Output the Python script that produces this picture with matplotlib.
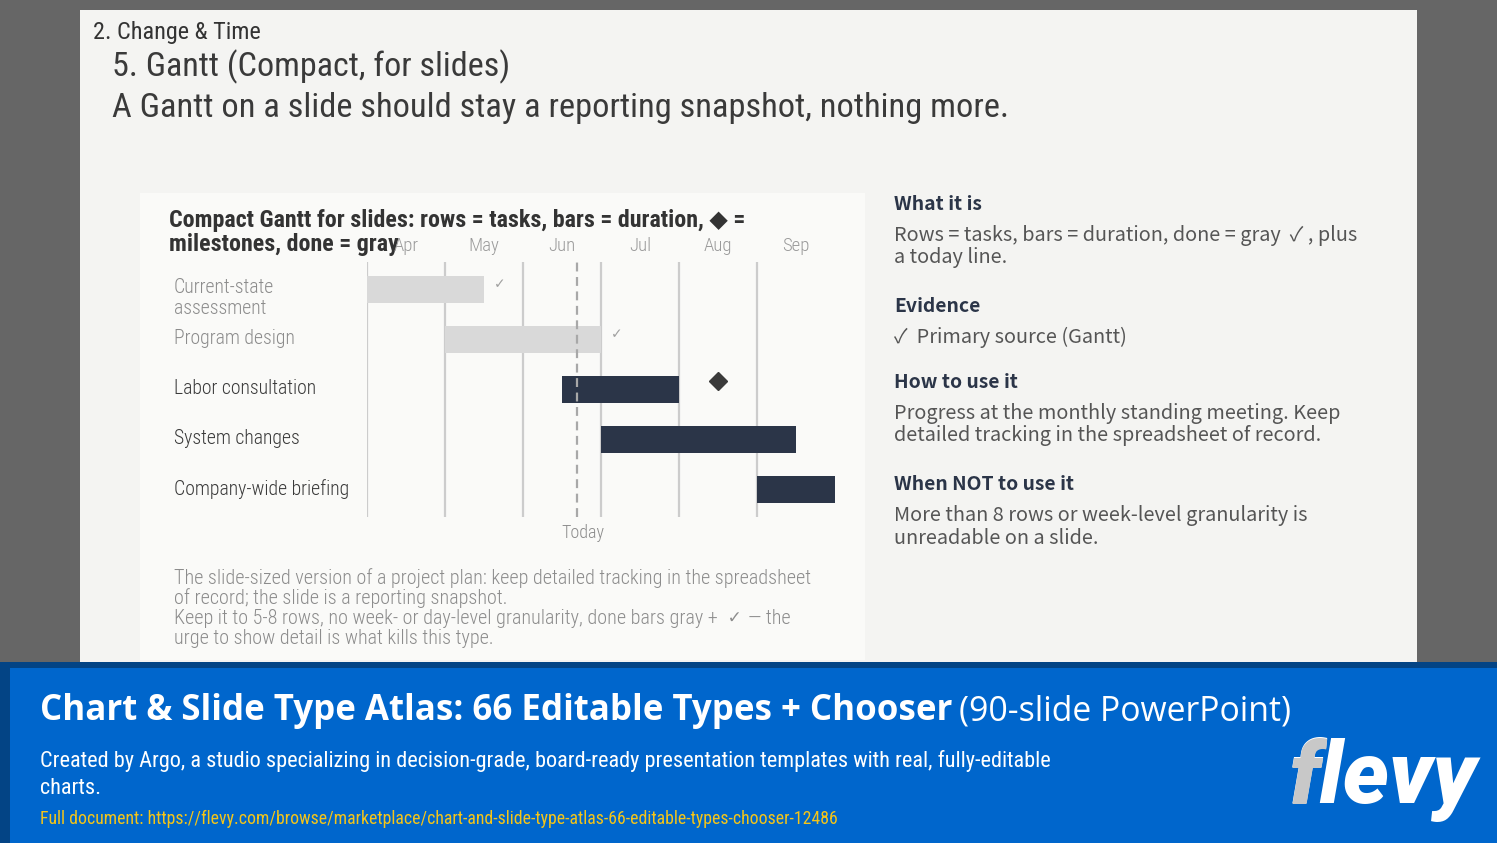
import matplotlib
matplotlib.use("Agg")
import matplotlib.pyplot as plt
from matplotlib import font_manager
from matplotlib.patches import Rectangle

# ---- data ----
months = ["Apr", "May", "Jun", "Jul", "Aug", "Sep"]
tasks = ["Current-state\nassessment", "Program design", "Labor consultation",
         "System changes", "Company-wide briefing"]
starts = [0.0, 1.0, 2.5, 3.0, 5.0]
ends = [1.5, 3.0, 4.0, 5.5, 6.0]
done = [True, True, False, False, False]
milestone_row = 2
milestone_at = 4.5
today = 2.69

notes = ["The slide-sized version of a project plan: keep detailed tracking in the spreadsheet",
         "of record; the slide is a reporting snapshot.",
         "Keep it to 5-8 rows, no week- or day-level granularity, done bars gray + \u2713 \u2014 the",
         "urge to show detail is what kills this type."]

side = [
    ("What it is", ["Rows = tasks, bars = duration, done = gray  \u2713 , plus", "a today line."]),
    ("Evidence", ["\u2713  Primary source (Gantt)"]),
    ("How to use it", ["Progress at the monthly standing meeting. Keep",
                       "detailed tracking in the spreadsheet of record."]),
    ("When NOT to use it", ["More than 8 rows or week-level granularity is",
                            "unreadable on a slide."]),
]

# ---- fonts ----
names = {f.name for f in font_manager.fontManager.ttflist}


def pick(*cands):
    for c in cands:
        if c in names:
            return c
    return "DejaVu Sans"


NARROW = [pick("Roboto Condensed", "Liberation Sans Narrow", "Roboto"), "DejaVu Sans"]
JP = [pick("Noto Sans CJK JP", "Noto Sans"), "DejaVu Sans"]
OPEN = [pick("Open Sans", "Noto Sans"), "DejaVu Sans"]
LOGO = [pick("Roboto", "Liberation Sans"), "DejaVu Sans"]

W, H = 1497, 843
fig = plt.figure(figsize=(W / 100, H / 100), dpi=100, facecolor="#666666")
renderer = fig.canvas.get_renderer()

bg = fig.add_axes([0, 0, 1, 1])
bg.set_xlim(0, W)
bg.set_ylim(H, 0)
bg.axis("off")

# slide, chart panel, banner
bg.add_patch(Rectangle((80, 10), 1337, 652, color="#f4f4f2", lw=0))
bg.add_patch(Rectangle((140, 193), 725, 467, color="#fafaf8", lw=0))
bg.add_patch(Rectangle((0, 662), W, H - 662, color="#034485", lw=0))
bg.add_patch(Rectangle((10, 668), W - 10, H - 668, color="#0066cc", lw=0))


def fit(x, y, s, width, color, family, weight="normal", **kw):
    t = bg.text(x, y, s, fontsize=20, color=color, family=family,
                fontweight=weight, va="center", ha="left", **kw)
    w = t.get_window_extent(renderer).width
    t.set_fontsize(20 * width / w)
    return t


def para(x, ys, lines, width, color, family, weight="normal"):
    t = fit(x, ys[0], lines[0], width, color, family, weight)
    size = t.get_fontsize()
    for y, s in zip(ys[1:], lines[1:]):
        bg.text(x, y, s, fontsize=size, color=color, family=family,
                fontweight=weight, va="center", ha="left")
    return size


# header
fit(93, 33, "2. Change & Time", 167, "#333333", NARROW)
fit(112, 67, "5. Gantt (Compact, for slides)", 397, "#3a3a3a", NARROW)
fit(112, 108, "A Gantt on a slide should stay a reporting snapshot, nothing more.", 893,
    "#3a3a3a", NARROW)

# chart title
para(169, [220, 244], ["Compact Gantt for slides: rows = tasks, bars = duration, \u25c6 =",
                       "milestones, done = gray"], 577, "#333333", NARROW, "bold")

# ---- gantt ----
x0, x1, y0, y1 = 367, 835, 262, 517
ax = fig.add_axes([x0 / W, 1 - y1 / H, (x1 - x0) / W, (y1 - y0) / H])
ax.set_facecolor("none")
rows = list(range(len(tasks)))
ax.set_xlim(0, len(months))
ax.set_ylim(len(tasks) - 0.44, -0.54)
for s in ax.spines.values():
    s.set_visible(False)

for m in range(len(months)):
    ax.axvline(m, color="#cccccc", lw=1.6, zorder=1)

bar_cols = ["#d9d9d9" if d else "#2b3548" for d in done]
ax.barh(rows, [e - s for s, e in zip(starts, ends)], left=starts, height=0.54,
        color=bar_cols, zorder=2)
ax.axvline(today, color="#a8a8a8", lw=1.6, ls=(0, (4, 2.5)), zorder=3)

for r, e, d in zip(rows, ends, done):
    if d:
        ax.text(e + 0.2, r - 0.1, "\u2713", fontsize=10, color="#a0a0a0",
                ha="center", va="center", family=["DejaVu Sans"])
ax.plot([milestone_at], [milestone_row - 0.16], marker="D", ms=9, color="#3a3a3a",
        zorder=4, ls="none")

ax.set_xticks([m + 0.5 for m in range(len(months))])
ax.set_xticklabels(months, family=NARROW, fontsize=13.5, color="#9a9a9a",
                   fontweight="light")
ax.xaxis.tick_top()
ax.tick_params(axis="x", length=0, pad=5)
ax.set_yticks([])

ytr = ax.get_yaxis_transform()
lab_x = (174 - x0) / (x1 - x0)
for r, name, d in zip(rows, tasks, done):
    yy = r + 0.18 if "\n" in name else r
    ax.text(lab_x, yy, name, transform=ytr, ha="left", va="center",
            fontsize=14.2, color="#8c8c8c" if d else "#3a3a3a", family=NARROW,
            fontweight="light", linespacing=1.15)

ax.text(today + 0.08, -0.063, "Today", transform=ax.get_xaxis_transform(),
        ha="center", va="center", fontsize=13, color="#8c8c8c", family=NARROW,
        fontweight="light")

# notes under chart (light face; the check mark comes from DejaVu Sans)
note_size = fit(174, 578, notes[0], 636, "#8c8c8c", NARROW, "light").get_fontsize()
for y, line in zip([598, 618, 638], notes[1:]):
    parts = line.split("\u2713")
    xx = 174
    for i, part in enumerate(parts):
        if i > 0:
            ck = bg.text(xx, y, " \u2713 ", fontsize=note_size * 0.85, color="#8c8c8c",
                         family=["DejaVu Sans"], va="center", ha="left")
            xx = ck.get_window_extent(renderer).x1
        seg = bg.text(xx, y, part.strip() if i > 0 else part, fontsize=note_size,
                      color="#8c8c8c", family=NARROW, fontweight="light",
                      va="center", ha="left")
        xx = seg.get_window_extent(renderer).x1

# ---- right panel ----
ys = [(205, [235, 258]), (307, [337]), (383, [413, 436]), (485, [515, 538])]
hsize = None
bsize = None
for (head, body), (hy, bys) in zip(side, ys):
    if hsize is None:
        hsize = fit(894, hy, head, 88, "#2b3548", JP, "bold").get_fontsize()
        bsize = para(894, bys, body, 463, "#555555", JP)
    else:
        bg.text(894, hy, head, fontsize=hsize, color="#2b3548", family=JP,
                fontweight="bold", va="center")
        for y, s in zip(bys, body):
            bg.text(894, y, s, fontsize=bsize, color="#555555", family=JP, va="center")

# ---- banner ----
t = fit(40, 711, "Chart & Slide Type Atlas: 66 Editable Types + Chooser", 910, "white",
        OPEN, "bold")
xe = t.get_window_extent(renderer).x1
bg.text(xe + 7, 711, "(90-slide PowerPoint)", fontsize=t.get_fontsize() * 0.97,
        color="white", family=OPEN, va="center")
para(40, [761, 789], ["Created by Argo, a studio specializing in decision-grade, board-ready "
                      "presentation templates with real, fully-editable", "charts."],
     1006, "white", NARROW)
fit(40, 819, "Full document: https://flevy.com/browse/marketplace/"
    "chart-and-slide-type-atlas-66-editable-types-chooser-12486", 796, "#f5c518", NARROW)

lg = fit(1290, 780, "flevy", 187, "white", LOGO, "black", style="italic")
bg.text(1290, 780, "f", fontsize=lg.get_fontsize(), color="#c8c8c8", family=LOGO,
        fontweight="black", style="italic", va="center", ha="left")

fig.savefig("out.png", dpi=100, facecolor=fig.get_facecolor())
